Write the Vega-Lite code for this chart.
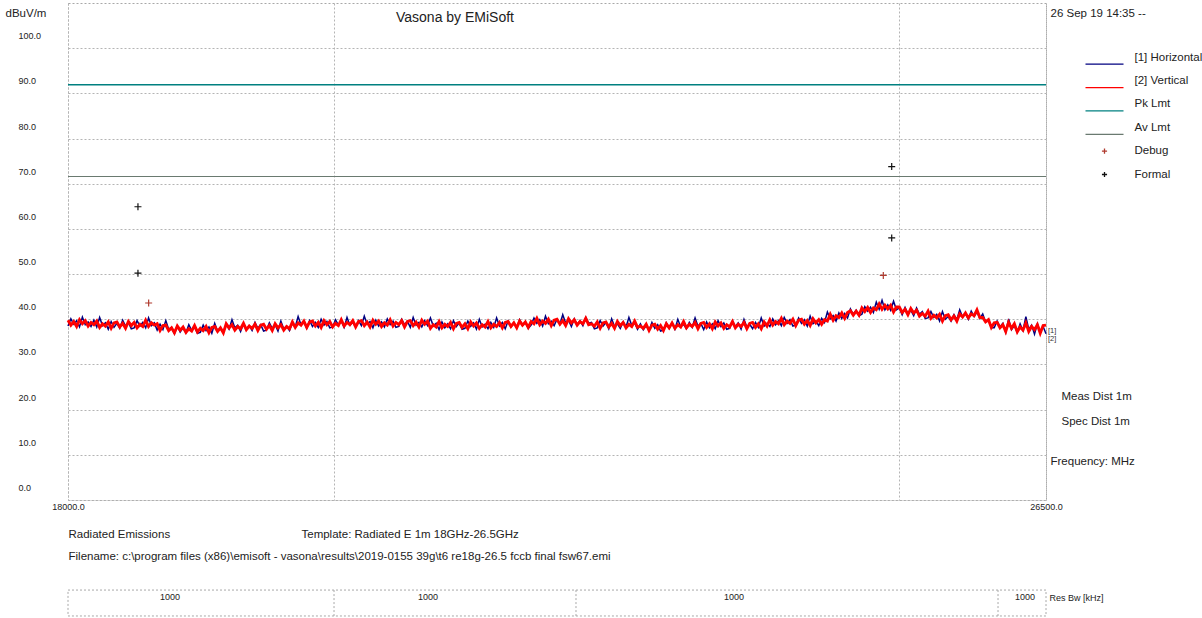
{
"$schema": "https://vega.github.io/schema/vega-lite/v6.json",
"autosize": {"type": "none"},
"padding": {"left": 68, "top": 3, "right": 156, "bottom": 118},
"background": "white",
"width": 978,
"height": 497,
"config": {
  "font": "Liberation Sans",
  "view": {"stroke": "#a8a8a8", "strokeDash": [2, 2], "strokeWidth": 1},
  "axis": {"gridColor": "#b4b4b4", "gridDash": [2, 2], "gridWidth": 1, "gridOpacity": 1, "domain": false, "ticks": false, "tickSize": 0, "labelColor": "#222", "titleColor": "#222", "titleFontWeight": "normal", "titleFontSize": 11.5}
},
"title": {"text": "Vasona by EMiSoft", "fontSize": 14, "fontWeight": "normal", "color": "#222", "anchor": "middle", "dx": -102, "dy": 33, "offset": 0, "baseline": "alphabetic"},
"datasets": {
"tr": [
{"f":18000,"h":38.5,"v":39.8},{"f":18025,"h":40.1,"v":38.7},{"f":18050,"h":38.9,"v":39.5},{"f":18075,"h":39.7,"v":38.4},{"f":18100,"h":38.3,"v":39.9},
{"f":18125,"h":40.5,"v":39.0},{"f":18150,"h":38.8,"v":39.7},{"f":18175,"h":39.4,"v":38.5},{"f":18200,"h":38.4,"v":39.3},{"f":18225,"h":39.8,"v":38.8},
{"f":18250,"h":38.3,"v":39.6},{"f":18275,"h":40.4,"v":38.2},{"f":18300,"h":38.6,"v":39.0},{"f":18325,"h":39.2,"v":38.5},{"f":18350,"h":37.8,"v":39.4},
{"f":18375,"h":39.5,"v":38.0},{"f":18400,"h":38.2,"v":39.2},{"f":18425,"h":39.1,"v":39.4},{"f":18450,"h":38.0,"v":38.3},{"f":18475,"h":39.8,"v":39.1},
{"f":18500,"h":38.5,"v":38.0},{"f":18525,"h":39.3,"v":39.5},{"f":18550,"h":37.9,"v":38.6},{"f":18575,"h":38.1,"v":39.3},{"f":18600,"h":39.7,"v":38.1},
{"f":18625,"h":38.5,"v":38.9},{"f":18650,"h":39.3,"v":38.4},{"f":18675,"h":38.1,"v":39.8},{"f":18700,"h":40.3,"v":38.4},{"f":18725,"h":38.6,"v":39.2},
{"f":18750,"h":39.2,"v":38.7},{"f":18775,"h":37.6,"v":39.0},{"f":18800,"h":38.9,"v":37.5},{"f":18825,"h":37.7,"v":38.6},{"f":18850,"h":39.7,"v":38.7},
{"f":18875,"h":37.8,"v":37.5},{"f":18900,"h":38.2,"v":38.1},{"f":18925,"h":36.8,"v":37.0},{"f":18950,"h":38.5,"v":38.5},{"f":18975,"h":37.2,"v":37.6},
{"f":19000,"h":38.1,"v":38.3},{"f":19025,"h":37.0,"v":37.1},{"f":19050,"h":38.8,"v":37.9},{"f":19075,"h":37.5,"v":37.4},{"f":19100,"h":38.3,"v":38.6},
{"f":19125,"h":36.9,"v":37.2},{"f":19150,"h":37.1,"v":38.0},{"f":19175,"h":38.7,"v":37.5},{"f":19200,"h":37.5,"v":38.4},{"f":19225,"h":38.3,"v":37.0},
{"f":19250,"h":36.9,"v":38.2},{"f":19275,"h":39.1,"v":38.4},{"f":19300,"h":37.4,"v":37.3},{"f":19325,"h":38.0,"v":38.1},{"f":19350,"h":37.0,"v":37.0},
{"f":19375,"h":38.9,"v":39.0},{"f":19400,"h":37.8,"v":38.1},{"f":19425,"h":39.9,"v":38.8},{"f":19450,"h":38.1,"v":37.6},{"f":19475,"h":38.7,"v":38.4},
{"f":19500,"h":37.3,"v":37.9},{"f":19525,"h":39.0,"v":39.1},{"f":19550,"h":37.7,"v":37.7},{"f":19575,"h":38.6,"v":38.5},{"f":19600,"h":37.5,"v":38.0},
{"f":19625,"h":39.3,"v":38.9},{"f":19650,"h":38.0,"v":37.5},{"f":19675,"h":38.8,"v":38.7},{"f":19700,"h":37.4,"v":38.9},{"f":19725,"h":37.6,"v":37.8},
{"f":19750,"h":39.2,"v":38.6},{"f":19775,"h":38.0,"v":37.5},{"f":19800,"h":38.8,"v":39.0},{"f":19825,"h":37.4,"v":38.1},{"f":19850,"h":39.6,"v":38.8},
{"f":19875,"h":37.9,"v":37.6},{"f":19900,"h":38.5,"v":38.4},{"f":19925,"h":37.5,"v":37.9},{"f":19950,"h":39.2,"v":39.4},{"f":19975,"h":38.3,"v":38.2},
{"f":20000,"h":40.6,"v":39.2},{"f":20025,"h":38.8,"v":38.7},{"f":20050,"h":39.4,"v":39.6},{"f":20075,"h":38.0,"v":38.2},{"f":20100,"h":39.7,"v":39.4},
{"f":20125,"h":38.4,"v":39.6},{"f":20150,"h":39.3,"v":38.5},{"f":20175,"h":38.2,"v":39.3},{"f":20200,"h":40.0,"v":38.2},{"f":20225,"h":38.7,"v":39.7},
{"f":20250,"h":39.5,"v":38.8},{"f":20275,"h":38.1,"v":39.5},{"f":20300,"h":38.3,"v":38.3},{"f":20325,"h":39.9,"v":39.1},{"f":20350,"h":38.7,"v":38.6},
{"f":20375,"h":39.6,"v":39.9},{"f":20400,"h":38.2,"v":38.5},{"f":20425,"h":40.4,"v":39.3},{"f":20450,"h":38.7,"v":38.8},{"f":20475,"h":39.3,"v":39.7},
{"f":20500,"h":38.3,"v":38.3},{"f":20525,"h":39.7,"v":39.5},{"f":20550,"h":38.6,"v":39.7},{"f":20575,"h":40.7,"v":38.6},{"f":20600,"h":38.9,"v":39.4},
{"f":20625,"h":39.5,"v":38.3},{"f":20650,"h":38.1,"v":39.8},{"f":20675,"h":39.8,"v":38.9},{"f":20700,"h":38.5,"v":39.6},{"f":20725,"h":39.4,"v":38.4},
{"f":20750,"h":38.3,"v":39.2},{"f":20775,"h":40.1,"v":38.7},{"f":20800,"h":38.8,"v":39.9},{"f":20825,"h":39.6,"v":38.5},{"f":20850,"h":38.2,"v":39.3},
{"f":20875,"h":38.4,"v":38.8},{"f":20900,"h":40.0,"v":39.7},{"f":20925,"h":38.8,"v":38.3},{"f":20950,"h":39.6,"v":39.5},{"f":20975,"h":38.2,"v":39.7},
{"f":21000,"h":40.4,"v":38.6},{"f":21025,"h":38.7,"v":39.4},{"f":21050,"h":39.3,"v":38.3},{"f":21075,"h":38.3,"v":39.8},{"f":21100,"h":39.7,"v":38.9},
{"f":21125,"h":38.6,"v":39.6},{"f":21150,"h":40.3,"v":38.0},{"f":21175,"h":38.5,"v":38.8},{"f":21200,"h":39.1,"v":38.3},{"f":21225,"h":37.7,"v":39.5},
{"f":21250,"h":39.4,"v":38.1},{"f":21275,"h":38.1,"v":38.9},{"f":21300,"h":39.0,"v":38.4},{"f":21325,"h":37.9,"v":39.3},{"f":21350,"h":39.7,"v":37.9},
{"f":21375,"h":38.4,"v":39.1},{"f":21400,"h":39.2,"v":39.3},{"f":21425,"h":37.8,"v":38.2},{"f":21450,"h":38.0,"v":39.0},{"f":21475,"h":39.6,"v":37.9},
{"f":21500,"h":38.4,"v":39.4},{"f":21525,"h":39.2,"v":38.5},{"f":21550,"h":37.8,"v":39.2},{"f":21575,"h":40.0,"v":38.0},{"f":21600,"h":38.3,"v":38.8},
{"f":21625,"h":38.9,"v":38.3},{"f":21650,"h":37.9,"v":39.5},{"f":21675,"h":39.3,"v":38.1},{"f":21700,"h":38.2,"v":38.9},{"f":21725,"h":40.3,"v":38.4},
{"f":21750,"h":38.5,"v":39.3},{"f":21775,"h":39.3,"v":38.1},{"f":21800,"h":37.9,"v":39.3},{"f":21825,"h":39.6,"v":39.5},{"f":21850,"h":38.3,"v":38.4},
{"f":21875,"h":39.2,"v":39.2},{"f":21900,"h":38.1,"v":38.1},{"f":21925,"h":39.9,"v":39.6},{"f":21950,"h":38.6,"v":38.7},{"f":21975,"h":39.4,"v":39.4},
{"f":22000,"h":38.0,"v":38.2},{"f":22025,"h":38.7,"v":39.5},{"f":22050,"h":40.3,"v":39.0},{"f":22075,"h":39.1,"v":40.2},{"f":22100,"h":39.9,"v":38.8},
{"f":22125,"h":38.5,"v":39.6},{"f":22150,"h":40.7,"v":39.1},{"f":22175,"h":39.0,"v":40.0},{"f":22200,"h":39.6,"v":38.6},{"f":22225,"h":38.6,"v":39.8},
{"f":22250,"h":40.0,"v":40.0},{"f":22275,"h":38.9,"v":38.9},{"f":22300,"h":41.0,"v":39.7},{"f":22325,"h":39.2,"v":38.6},{"f":22350,"h":39.8,"v":40.1},
{"f":22375,"h":38.4,"v":39.2},{"f":22400,"h":40.1,"v":39.9},{"f":22425,"h":38.8,"v":38.7},{"f":22450,"h":39.7,"v":39.5},{"f":22475,"h":38.6,"v":39.0},
{"f":22500,"h":40.4,"v":40.2},{"f":22525,"h":39.1,"v":38.8},{"f":22550,"h":39.3,"v":39.0},{"f":22575,"h":37.9,"v":38.5},{"f":22600,"h":38.1,"v":39.4},
{"f":22625,"h":39.7,"v":38.0},{"f":22650,"h":38.5,"v":39.2},{"f":22675,"h":39.3,"v":39.4},{"f":22700,"h":37.9,"v":38.3},{"f":22725,"h":40.1,"v":39.1},
{"f":22750,"h":38.4,"v":38.0},{"f":22775,"h":39.0,"v":39.5},{"f":22800,"h":38.0,"v":38.6},{"f":22825,"h":39.4,"v":39.3},{"f":22850,"h":38.3,"v":38.1},
{"f":22875,"h":40.4,"v":38.9},{"f":22900,"h":38.6,"v":38.4},{"f":22925,"h":39.2,"v":39.6},{"f":22950,"h":37.8,"v":38.2},{"f":22975,"h":39.0,"v":38.5},
{"f":23000,"h":37.7,"v":38.0},{"f":23025,"h":38.6,"v":38.9},{"f":23050,"h":37.5,"v":37.5},{"f":23075,"h":39.3,"v":38.7},{"f":23100,"h":38.0,"v":38.9},
{"f":23125,"h":38.8,"v":37.8},{"f":23150,"h":37.4,"v":38.6},{"f":23175,"h":37.6,"v":37.5},{"f":23200,"h":39.2,"v":39.0},{"f":23225,"h":38.0,"v":38.1},
{"f":23250,"h":39.2,"v":39.2},{"f":23275,"h":37.8,"v":38.0},{"f":23300,"h":40.0,"v":38.8},{"f":23325,"h":38.3,"v":38.3},{"f":23350,"h":38.9,"v":39.5},
{"f":23375,"h":37.9,"v":38.1},{"f":23400,"h":39.3,"v":38.9},{"f":23425,"h":38.2,"v":38.4},{"f":23450,"h":40.3,"v":39.3},{"f":23475,"h":38.5,"v":37.9},
{"f":23500,"h":39.1,"v":39.1},{"f":23525,"h":37.7,"v":39.3},{"f":23550,"h":39.4,"v":38.2},{"f":23575,"h":38.1,"v":39.0},{"f":23600,"h":39.0,"v":37.9},
{"f":23625,"h":37.9,"v":39.4},{"f":23650,"h":39.7,"v":38.5},{"f":23675,"h":38.4,"v":39.2},{"f":23700,"h":39.2,"v":38.0},{"f":23725,"h":37.8,"v":38.8},
{"f":23750,"h":38.0,"v":38.3},{"f":23775,"h":39.6,"v":39.5},{"f":23800,"h":38.4,"v":38.1},{"f":23825,"h":39.2,"v":38.9},{"f":23850,"h":37.8,"v":38.4},
{"f":23875,"h":40.0,"v":39.3},{"f":23900,"h":38.3,"v":37.9},{"f":23925,"h":38.9,"v":39.1},{"f":23950,"h":37.9,"v":39.3},{"f":23975,"h":39.3,"v":38.2},
{"f":24000,"h":38.2,"v":39.0},{"f":24025,"h":40.3,"v":37.9},{"f":24050,"h":38.5,"v":39.4},{"f":24075,"h":39.1,"v":38.5},{"f":24100,"h":38.4,"v":39.9},
{"f":24125,"h":40.1,"v":38.7},{"f":24150,"h":38.8,"v":39.5},{"f":24175,"h":39.7,"v":39.0},{"f":24200,"h":38.6,"v":40.2},{"f":24225,"h":40.4,"v":38.8},
{"f":24250,"h":39.1,"v":39.6},{"f":24275,"h":39.9,"v":39.1},{"f":24300,"h":38.5,"v":40.0},{"f":24325,"h":38.7,"v":38.6},{"f":24350,"h":40.3,"v":39.8},
{"f":24375,"h":39.1,"v":40.0},{"f":24400,"h":39.9,"v":38.9},{"f":24425,"h":38.5,"v":39.7},{"f":24450,"h":40.7,"v":38.6},{"f":24475,"h":39.0,"v":40.1},
{"f":24500,"h":39.6,"v":39.2},{"f":24525,"h":38.6,"v":39.9},{"f":24550,"h":40.2,"v":38.9},{"f":24575,"h":39.3,"v":39.9},{"f":24600,"h":41.6,"v":39.6},
{"f":24625,"h":40.1,"v":41.1},{"f":24650,"h":40.8,"v":39.8},{"f":24675,"h":39.6,"v":40.8},{"f":24700,"h":41.4,"v":40.4},{"f":24725,"h":40.2,"v":41.4},
{"f":24750,"h":41.3,"v":40.2},{"f":24775,"h":40.3,"v":41.5},{"f":24800,"h":42.3,"v":41.9},{"f":24825,"h":41.1,"v":40.9},{"f":24850,"h":42.0,"v":41.8},
{"f":24875,"h":40.8,"v":40.9},{"f":24900,"h":41.1,"v":42.5},{"f":24925,"h":42.8,"v":41.7},{"f":24950,"h":41.8,"v":42.6},{"f":24975,"h":42.7,"v":41.5},
{"f":25000,"h":41.5,"v":42.5},{"f":25025,"h":43.8,"v":42.1},{"f":25050,"h":42.2,"v":43.4},{"f":25075,"h":44.2,"v":42.2},{"f":25100,"h":42.1,"v":43.1},
{"f":25125,"h":43.2,"v":42.3},{"f":25150,"h":42.0,"v":43.1},{"f":25175,"h":44.0,"v":41.6},{"f":25200,"h":42.1,"v":42.7},{"f":25225,"h":42.5,"v":42.7},
{"f":25250,"h":41.0,"v":41.5},{"f":25275,"h":42.6,"v":42.2},{"f":25300,"h":41.2,"v":41.0},{"f":25325,"h":42.0,"v":42.4},{"f":25350,"h":40.8,"v":41.4},
{"f":25375,"h":42.5,"v":42.0},{"f":25400,"h":41.1,"v":40.7},{"f":25425,"h":41.7,"v":41.3},{"f":25450,"h":40.2,"v":40.7},{"f":25475,"h":40.3,"v":41.8},
{"f":25500,"h":41.7,"v":40.2},{"f":25525,"h":40.4,"v":40.9},{"f":25550,"h":41.1,"v":40.3},{"f":25575,"h":39.6,"v":41.1},{"f":25600,"h":41.7,"v":39.6},
{"f":25625,"h":40.0,"v":40.8},{"f":25650,"h":40.6,"v":41.0},{"f":25675,"h":39.6,"v":39.9},{"f":25700,"h":41.0,"v":40.7},{"f":25725,"h":39.9,"v":39.6},
{"f":25750,"h":42.1,"v":41.2},{"f":25775,"h":40.5,"v":40.5},{"f":25800,"h":41.3,"v":41.4},{"f":25825,"h":40.0,"v":40.3},{"f":25850,"h":41.8,"v":41.2},
{"f":25875,"h":40.6,"v":40.8},{"f":25900,"h":41.6,"v":42.1},{"f":25925,"h":40.2,"v":40.4},{"f":25950,"h":41.2,"v":40.4},{"f":25975,"h":39.4,"v":39.4},
{"f":26000,"h":39.8,"v":39.9},{"f":26025,"h":38.1,"v":38.2},{"f":26050,"h":38.1,"v":39.2},{"f":26075,"h":39.6,"v":39.3},{"f":26100,"h":38.3,"v":38.1},
{"f":26125,"h":39.1,"v":38.8},{"f":26150,"h":37.1,"v":37.3},{"f":26175,"h":40.1,"v":39.3},{"f":26200,"h":37.7,"v":38.0},{"f":26225,"h":38.6,"v":39.0},
{"f":26250,"h":37.1,"v":37.2},{"f":26275,"h":39.0,"v":38.3},{"f":26300,"h":37.5,"v":37.6},{"f":26325,"h":40.6,"v":39.2},{"f":26350,"h":37.8,"v":37.3},
{"f":26375,"h":38.7,"v":38.4},{"f":26400,"h":36.7,"v":37.7},{"f":26425,"h":39.0,"v":38.8},{"f":26450,"h":37.2,"v":36.9},{"f":26475,"h":38.4,"v":38.6},
{"f":26500,"h":36.8,"v":38.7}
]
},
"layer": [
  {
    "data": {"name": "tr"},
    "mark": {"type": "line", "strokeWidth": 1.5},
    "encoding": {
      "x": {"field": "f", "type": "quantitative", "scale": {"domain": [18000, 26500], "nice": false, "zero": false},
        "axis": {"orient": "bottom", "values": [18000, 20312, 25226, 26500], "grid": true, "labelExpr": "datum.value == 18000 || datum.value == 26500 ? format(datum.value, '.1f') : ''", "labelFlush": false, "labelOverlap": false, "labelFontSize": 9, "labelPadding": 2,
          "title": "Frequency: MHz", "titleX": 982, "titleY": -39, "titleAlign": "left", "titleBaseline": "middle"}},
      "y": {"field": "h", "type": "quantitative", "scale": {"domain": [0, 110], "nice": false, "zero": false},
        "axis": {"orient": "left", "values": [0, 10, 20, 30, 40, 50, 60, 70, 80, 90, 100], "format": ".1f", "grid": true, "labelAlign": "left", "labelPadding": 50, "labelOffset": -12.5, "labelFontSize": 9, "labelBaseline": "middle",
          "title": "dBuV/m", "titleAngle": 0, "titleX": -63, "titleY": 10, "titleAlign": "left", "titleBaseline": "middle"}},
      "color": {"datum": "h", "type": "nominal",
        "scale": {"domain": ["h", "v", "pk", "av", "dbg", "fml"], "range": ["#000080", "#ff0000", "#008080", "#6a7a70", "#b03a2e", "#111111"]},
        "legend": {"orient": "none", "legendX": 1026, "legendY": 44, "title": null, "padding": 0, "symbolSize": 361, "symbolStrokeWidth": 1.3, "labelOffset": 19.5, "rowPadding": 3.4, "labelFontSize": 11.5, "labelColor": "#222", "labelLimit": 200,
          "labelExpr": "{'h':'[1] Horizontal','v':'[2] Vertical','pk':'Pk Lmt','av':'Av Lmt','dbg':'Debug','fml':'Formal'}[datum.label]",
          "encode": {"symbols": {"update": {
            "shape": {"signal": "indexof(['dbg','fml'], datum.value) >= 0 ? 'M-0.27,0H0.27M0,-0.27V0.27M0,0.7h0.001' : 'M-2,0.7H2'"},
            "stroke": {"signal": "{'h':'#000080','v':'#ff0000','pk':'#008080','av':'#6a7a70','dbg':'#b03a2e','fml':'#111111'}[datum.value]"},
            "fill": {"value": "transparent"},
            "strokeWidth": {"value": 1.3},
            "opacity": {"value": 1}
          }}}}
      }
    }
  },
  {
    "data": {"name": "tr"},
    "mark": {"type": "line", "strokeWidth": 2.9},
    "encoding": {
      "x": {"field": "f", "type": "quantitative",
        "axis": {"orient": "top", "grid": false, "labels": false, "title": "26 Sep 19 14:35 --", "titleX": 982, "titleY": 10, "titleAlign": "left", "titleBaseline": "middle"}},
      "y": {"field": "v", "type": "quantitative",
        "axis": {"orient": "right", "grid": false, "labels": false, "title": ["Meas Dist 1m", "Spec Dist 1m"], "titleAngle": 0, "titleX": 15, "titleY": 387, "titleAlign": "left", "titleBaseline": "top", "titleLineHeight": 25}},
      "color": {"datum": "v", "type": "nominal", "legend": {"title": null}}
    }
  },
  {
    "data": {"values": [{}]},
    "mark": {"type": "rule", "strokeWidth": 1.4},
    "encoding": {
      "y": {"datum": 91.9, "type": "quantitative",
        "axis": {"orient": "left", "grid": false, "labels": false, "title": "Radiated Emissions", "titleAngle": 0, "titleX": 0, "titleY": 531, "titleAlign": "left", "titleBaseline": "middle"}},
      "color": {"datum": "pk", "type": "nominal", "legend": {"title": null}}
    }
  },
  {
    "data": {"values": [{}]},
    "mark": {"type": "rule", "strokeWidth": 1.2},
    "encoding": {
      "y": {"datum": 71.6, "type": "quantitative",
        "axis": {"orient": "left", "grid": false, "labels": false, "title": "Template: Radiated E 1m 18GHz-26.5GHz", "titleAngle": 0, "titleX": 233, "titleY": 531, "titleAlign": "left", "titleBaseline": "middle"}},
      "color": {"datum": "av", "type": "nominal", "legend": {"title": null}}
    }
  },
  {
    "data": {"values": [
      {"f": 18608, "y": 64.9, "s": "fml"}, {"f": 18608, "y": 50.2, "s": "fml"},
      {"f": 25159, "y": 73.8, "s": "fml"}, {"f": 25159, "y": 58.0, "s": "fml"},
      {"f": 18701, "y": 43.6, "s": "dbg"}, {"f": 25086, "y": 49.7, "s": "dbg"}
    ]},
    "mark": {"type": "point", "shape": "M-1,0H1M0,-1V1", "size": 49, "filled": false, "strokeWidth": 1.2, "opacity": 1},
    "encoding": {
      "x": {"field": "f", "type": "quantitative",
        "axis": {"orient": "bottom", "grid": false, "labels": false, "title": "Filename: c:\\program files (x86)\\emisoft - vasona\\results\\2019-0155 39g\\t6 re18g-26.5 fccb final fsw67.emi", "titleX": 0, "titleY": 56, "titleAlign": "left", "titleBaseline": "middle"}},
      "y": {"field": "y", "type": "quantitative", "axis": null},
      "color": {"field": "s", "type": "nominal", "title": null, "legend": {"title": null}}
    }
  },
  {
    "data": {"values": [{"f": 26500, "y": 37.5, "t": "[1]"}, {"f": 26500, "y": 35.7, "t": "[2]"}]},
    "mark": {"type": "text", "fontSize": 7.5, "align": "left", "dx": 2, "color": "#333"},
    "encoding": {
      "x": {"field": "f", "type": "quantitative", "axis": null},
      "y": {"field": "y", "type": "quantitative", "axis": null},
      "text": {"field": "t"}
    }
  },
  {
    "data": {"values": [{}]},
    "mark": {"type": "rect", "fill": null, "fillOpacity": 0, "stroke": "#a8a8a8", "strokeDash": [2, 2], "strokeWidth": 1},
    "encoding": {
      "x": {"datum": 18000, "type": "quantitative",
        "axis": {"orient": "bottom", "grid": false, "labels": false, "title": "Res Bw [kHz]", "titleFontSize": 9, "titleX": 981, "titleY": 97, "titleAlign": "left", "titleBaseline": "middle"}},
      "x2": {"datum": 26500},
      "y": {"datum": -19.93, "type": "quantitative", "axis": null},
      "y2": {"datum": -25.67}
    }
  },
  {
    "data": {"values": [{"f": 20312}, {"f": 22415}, {"f": 26083}]},
    "mark": {"type": "rule", "color": "#a8a8a8", "strokeDash": [2, 2], "strokeWidth": 1},
    "encoding": {
      "x": {"field": "f", "type": "quantitative", "axis": null},
      "y": {"datum": -19.93, "type": "quantitative", "axis": null},
      "y2": {"datum": -25.67}
    }
  },
  {
    "data": {"values": [{"f": 18887, "t": "1000"}, {"f": 21129, "t": "1000"}, {"f": 23788, "t": "1000"}, {"f": 26317, "t": "1000"}]},
    "mark": {"type": "text", "fontSize": 9, "color": "#222"},
    "encoding": {
      "x": {"field": "f", "type": "quantitative", "axis": null},
      "y": {"datum": -21.5, "type": "quantitative", "axis": null},
      "text": {"field": "t"}
    }
  }
],
"resolve": {"axis": {"x": "independent", "y": "independent"}}
}
